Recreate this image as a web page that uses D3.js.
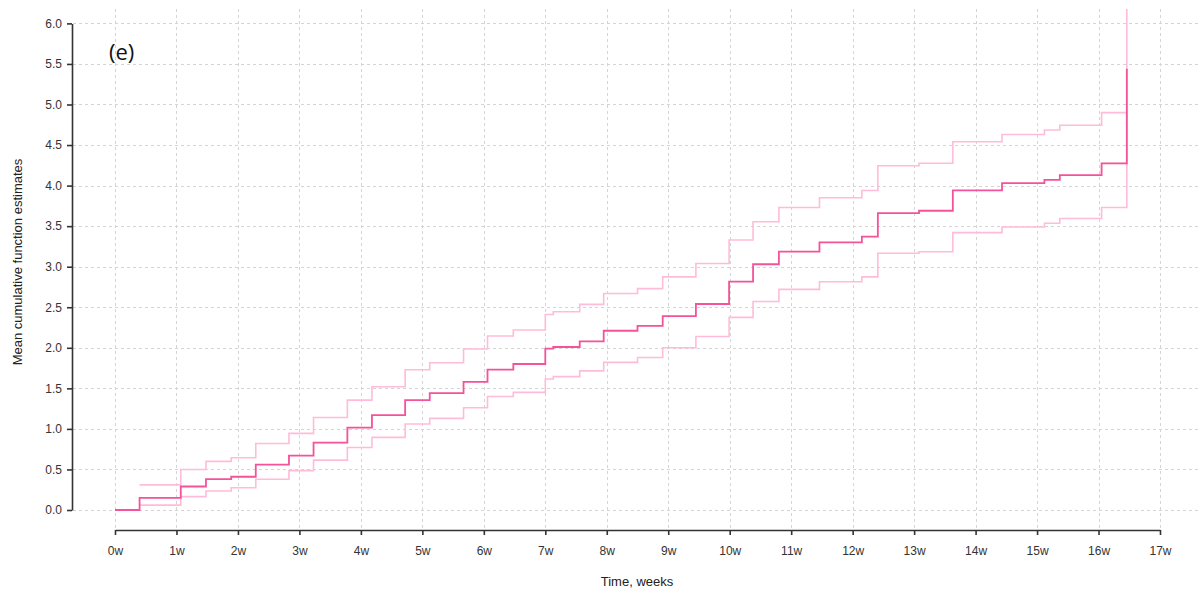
<!DOCTYPE html>
<html>
<head>
<meta charset="utf-8">
<script src="https://cdn.jsdelivr.net/npm/d3@7"></script>
<style>
  body { margin: 0; background: #fff; }
  svg { display: block; }
</style>
</head>
<body>
<script>
// event times (weeks) and step values
var times = [0, 0.4, 1.07, 1.48, 1.89, 2.29, 2.83, 3.23, 3.78, 4.18,
  4.72, 5.12, 5.67, 6.06, 6.48, 7.0, 7.13, 7.56, 7.95, 8.5, 8.91, 9.45, 9.99,
  10.38, 10.8, 11.46, 12.15, 12.41, 13.08, 13.63,
  14.43, 15.12, 15.37, 16.05, 16.46];
var mcf = [0, 0.15, 0.29, 0.38, 0.41, 0.56, 0.67, 0.83, 1.015, 1.17,
  1.356, 1.44, 1.58, 1.73, 1.80, 1.99, 2.01, 2.08, 2.21, 2.27, 2.39, 2.54, 2.815,
  3.03, 3.185, 3.30, 3.37, 3.66, 3.69, 3.94,
  4.03, 4.07, 4.13, 4.275, 5.44];
// confidence limits start at the first event (times[1])
var upper = [0.31, 0.50, 0.60, 0.645, 0.82, 0.945, 1.14, 1.355, 1.52,
  1.73, 1.815, 1.985, 2.145, 2.22, 2.41, 2.445, 2.535, 2.67, 2.73, 2.875, 3.04, 3.33,
  3.555, 3.73, 3.85, 3.94, 4.245, 4.275, 4.54,
  4.63, 4.685, 4.745, 4.9, 6.5];
var lower = [0.06, 0.165, 0.235, 0.275, 0.38, 0.485, 0.615, 0.77, 0.895,
  1.06, 1.13, 1.26, 1.40, 1.45, 1.615, 1.645, 1.715, 1.82, 1.88, 2.0, 2.14, 2.375,
  2.57, 2.72, 2.815, 2.875, 3.165, 3.185, 3.42,
  3.49, 3.535, 3.595, 3.73, 4.9];
var xTicks = d3.range(0, 18);
var yTicks = d3.range(0, 6.01, 0.5);

var width = 1201, height = 594;
var svg = d3.select("body").append("svg")
  .attr("width", width)
  .attr("height", height);

var x = d3.scaleLinear().domain([0, 17]).range([115, 1160]);
var y = d3.scaleLinear().domain([0, 6]).range([510, 23.4]);

var plotTop = 9, plotLeft = 72, plotBottom = 530;

svg.append("defs").append("clipPath").attr("id", "clip")
  .append("rect")
  .attr("x", plotLeft).attr("y", plotTop)
  .attr("width", width - plotLeft).attr("height", plotBottom - plotTop);

// grid
var grid = svg.append("g")
  .attr("stroke", "#d4d4d4")
  .attr("stroke-width", 1)
  .attr("stroke-dasharray", "3,3");
grid.selectAll("line.v").data(xTicks).enter().append("line")
  .attr("class", "v")
  .attr("x1", d => Math.round(x(d)) + 0.5).attr("x2", d => Math.round(x(d)) + 0.5)
  .attr("y1", plotTop).attr("y2", plotBottom);
grid.selectAll("line.h").data(yTicks).enter().append("line")
  .attr("class", "h")
  .attr("x1", plotLeft + 1).attr("x2", width)
  .attr("y1", d => Math.round(y(d)) + 0.5).attr("y2", d => Math.round(y(d)) + 0.5);

// step lines
var stepLine = d3.line()
  .x(d => x(d[0]))
  .y(d => y(d[1]))
  .curve(d3.curveStepAfter);

var ciTimes = times.slice(1);
var lines = svg.append("g").attr("clip-path", "url(#clip)").attr("fill", "none");

lines.append("path")
  .datum(ciTimes.map((t, i) => [t, lower[i]]))
  .attr("d", stepLine)
  .attr("stroke", "#ffbcd8")
  .attr("stroke-width", 1.6);
lines.append("path")
  .datum(ciTimes.map((t, i) => [t, upper[i]]))
  .attr("d", stepLine)
  .attr("stroke", "#ffbcd8")
  .attr("stroke-width", 1.6);
lines.append("path")
  .datum(times.map((t, i) => [t, mcf[i]]))
  .attr("d", stepLine)
  .attr("stroke", "#f4529a")
  .attr("stroke-width", 1.8);

// axes
var yAxis = svg.append("g")
  .attr("transform", "translate(" + plotLeft + ",0)")
  .call(d3.axisLeft(y).tickValues(yTicks).tickFormat(d3.format(".1f"))
    .tickSize(5).tickSizeOuter(0).tickPadding(5));
var xAxis = svg.append("g")
  .attr("transform", "translate(0," + plotBottom + ")")
  .call(d3.axisBottom(x).tickValues(xTicks).tickFormat(d => d + "w")
    .tickSize(5).tickSizeOuter(0).tickPadding(11));

[yAxis, xAxis].forEach(function(g) {
  g.select(".domain").attr("stroke", "#333").attr("stroke-width", 1.6);
  g.selectAll(".tick line").attr("stroke", "#333").attr("stroke-width", 1.6);
  g.selectAll(".tick text")
    .attr("fill", "#333")
    .style("font-family", "'Liberation Sans', Arial, sans-serif")
    .style("font-size", "12px");
});

// titles
svg.append("text")
  .attr("x", 637).attr("y", 586)
  .attr("text-anchor", "middle")
  .attr("fill", "#222")
  .style("font-family", "'Liberation Sans', Arial, sans-serif")
  .style("font-size", "13px")
  .text("Time, weeks");

svg.append("text")
  .attr("transform", "translate(22,262) rotate(-90)")
  .attr("text-anchor", "middle")
  .attr("fill", "#222")
  .style("font-family", "'Liberation Sans', Arial, sans-serif")
  .style("font-size", "13px")
  .text("Mean cumulative function estimates");

svg.append("text")
  .attr("x", 109).attr("y", 60)
  .attr("fill", "#111")
  .style("font-family", "'Open Sans', 'Noto Sans', sans-serif")
  .style("font-size", "22px")
  .text("(e)");
</script>
</body>
</html>
